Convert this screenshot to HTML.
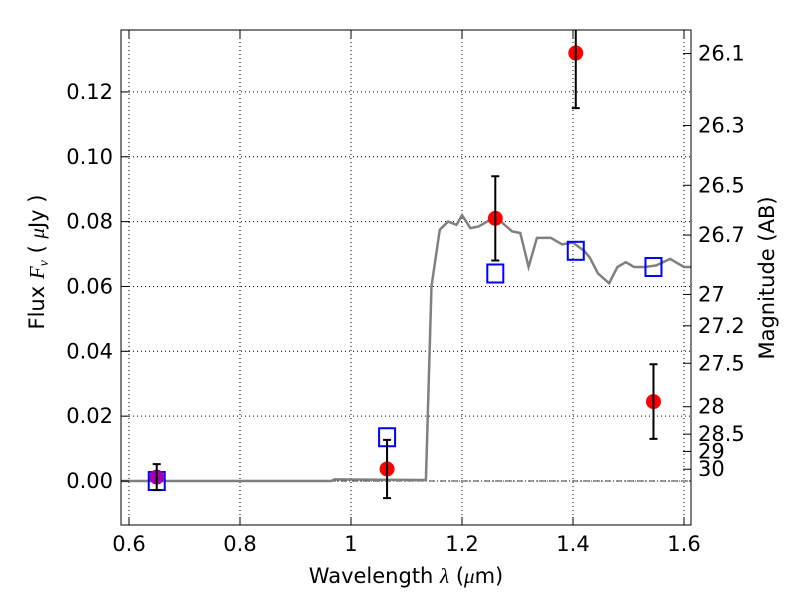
<!DOCTYPE html>
<html><head><meta charset="utf-8"><style>body{margin:0;background:#fff}svg{display:block}text{font-family:"DejaVu Sans","Liberation Sans",sans-serif}</style></head>
<body>
<svg id="chart" width="800" height="600" xmlns="http://www.w3.org/2000/svg">
<defs><clipPath id="pc"><rect x="121" y="30" width="570" height="495"/></clipPath></defs>
<g id="grid"></g>
<g id="model" clip-path="url(#pc)"></g>
<g id="marks" clip-path="url(#pc)"></g>
<rect x="121" y="30" width="570" height="495" fill="none" stroke="#000" stroke-width="1"/>
<g id="axes"></g>
<text x="406" y="583" font-size="21" text-anchor="middle">Wavelength  <tspan font-style="italic" font-family="Liberation Serif">λ</tspan> (<tspan font-style="italic" font-family="Liberation Serif">μ</tspan>m)</text>
<text transform="translate(44,262) rotate(-90)" font-size="21" text-anchor="middle">Flux  <tspan font-style="italic" font-family="Liberation Serif">F<tspan font-size="14" dy="4">ν</tspan></tspan><tspan dy="-4">  (  </tspan><tspan font-style="italic" font-family="Liberation Serif">μ</tspan>Jy )</text>
<text transform="translate(774,278) rotate(-90)" font-size="21" text-anchor="middle">Magnitude (AB)</text>
</svg>
<script>
const xTicks=[0.6,0.8,1.0,1.2,1.4,1.6];
const xTickLabels=["0.6","0.8","1","1.2","1.4","1.6"];
const yTicks=[0,0.02,0.04,0.06,0.08,0.10,0.12];
const yTickLabels=["0.00","0.02","0.04","0.06","0.08","0.10","0.12"];
const magTicks=[26.1,26.3,26.5,26.7,27,27.2,27.5,28,28.5,29,30];
const magLabels=["26.1","26.3","26.5","26.7","27","27.2","27.5","28","28.5","29","30"];
const obsWave=[0.65,1.065,1.26,1.405,1.545];
const obsFlux=[0.0012,0.0037,0.081,0.132,0.0245];
const obsErr=[0.004,0.009,0.013,0.017,0.0115];
const modelPtWave=[0.65,1.065,1.26,1.405,1.545];
const modelPtFlux=[0.0,0.0135,0.064,0.071,0.066];
const specWave=[0.585,0.965,0.97,1.135,1.145,1.16,1.175,1.19,1.2,1.215,1.23,1.25,1.27,1.29,1.305,1.32,1.335,1.36,1.38,1.4,1.42,1.43,1.445,1.465,1.48,1.495,1.51,1.53,1.55,1.575,1.6,1.613];
const specFlux=[0,0,0.0005,0.0003,0.06,0.0775,0.08,0.079,0.082,0.078,0.0785,0.0805,0.08,0.077,0.0765,0.066,0.075,0.075,0.073,0.0735,0.071,0.069,0.064,0.061,0.066,0.0675,0.066,0.066,0.0665,0.0685,0.066,0.066];
const X0=121,X1=691,Y0=525,Y1=30,xMin=0.5856,xMax=1.6126,yMin=-0.01357,yMax=0.1391;
const sx=v=>X0+(v-xMin)/(xMax-xMin)*(X1-X0);
const sy=v=>Y0-(v-yMin)/(yMax-yMin)*(Y0-Y1);
const NS="http://www.w3.org/2000/svg";
function mk(p,t,a){const e=document.createElementNS(NS,t);for(const k in a)e.setAttribute(k,a[k]);p.appendChild(e);return e;}
const grid=document.getElementById('grid'),axes=document.getElementById('axes'),model=document.getElementById('model'),marks=document.getElementById('marks');
xTicks.forEach((t,i)=>{const x=sx(t);
 let g=mk(grid,'line',{x1:x,x2:x,y1:Y1,y2:Y0,stroke:'#000','stroke-dasharray':'1,3'});
 let a=mk(axes,'line',{x1:x,x2:x,y1:Y0,y2:Y0-8,stroke:'#000'});
 let b=mk(axes,'line',{x1:x,x2:x,y1:Y1,y2:Y1+8,stroke:'#000'});
 let l=mk(axes,'text',{x:x,y:551,'font-size':21,'text-anchor':'middle'});l.textContent=xTickLabels[i];});
yTicks.forEach((t,i)=>{const y=sy(t);
 let g=mk(grid,'line',{x1:X0,x2:X1,y1:y,y2:y,stroke:'#000','stroke-dasharray':'1,3'});
 let a=mk(axes,'line',{x1:X0,x2:X0+8,y1:y,y2:y,stroke:'#000'});
 let l=mk(axes,'text',{x:113,y:y+7,'font-size':21,'text-anchor':'end'});l.textContent=yTickLabels[i];});
magTicks.forEach((m,i)=>{const y=sy(Math.pow(10,(23.9-m)/2.5));
 let a=mk(axes,'line',{x1:X1,x2:X1-8,y1:y,y2:y,stroke:'#000'});
 let l=mk(axes,'text',{x:698,y:y+7,'font-size':21});l.textContent=magLabels[i];});
let z=mk(model,'line',{x1:X0,x2:X1,y1:sy(0),y2:sy(0),stroke:'#000','stroke-dasharray':'6,2,1,2','stroke-width':0.8});
let p=mk(model,'polyline',{points:specWave.map((w,i)=>sx(w)+','+sy(specFlux[i])).join(' '),fill:'none',stroke:'#808080','stroke-width':2.5});
modelPtWave.forEach((w,i)=>{let r=mk(marks,'rect',{x:sx(w)-8,y:sy(modelPtFlux[i])-9,width:16,height:18,fill:'none',stroke:'#0000ff','stroke-width':2});});
obsWave.forEach((w,i)=>{const x=sx(w),y=sy(obsFlux[i]),e1=sy(obsFlux[i]+obsErr[i]),e2=sy(obsFlux[i]-obsErr[i]);
 let c=mk(marks,'circle',{cx:x,cy:y,r:7.5,fill:i==0?'#a000b0':'#ff0000'});
 let eb=mk(marks,'path',{d:`M${x},${e1}V${e2}M${x-4},${e1}H${x+4}M${x-4},${e2}H${x+4}`,stroke:'#000','stroke-width':2,fill:'none'});});
</script>
</body></html>
